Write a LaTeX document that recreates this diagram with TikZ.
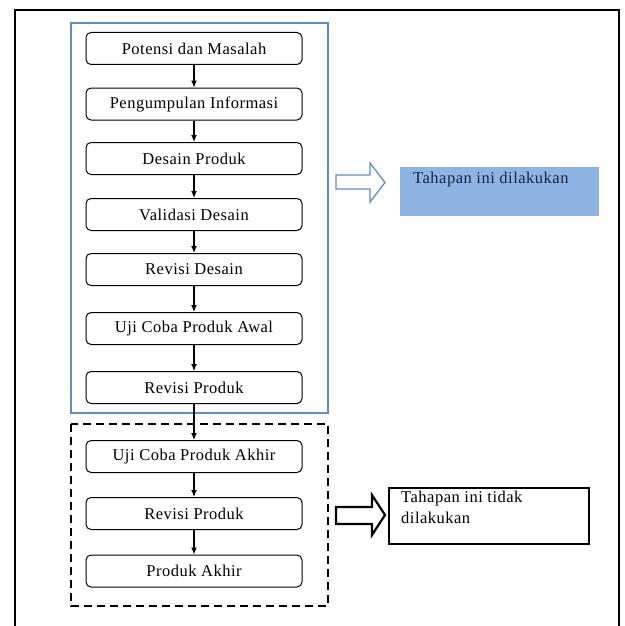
\documentclass[tikz,border=0pt]{standalone}
\usepackage{fontspec}
\setmainfont{Liberation Serif}[LetterSpace=3]
\usepackage{tikz}
\usetikzlibrary{arrows.meta,positioning}
\definecolor{tahapBlue}{RGB}{96,140,200}
\definecolor{tahapFill}{RGB}{141,180,226}
\definecolor{tahapText}{RGB}{28,36,66}

\begin{document}
\begin{tikzpicture}[x=1pt, y=-1pt, >={Latex[length=7pt,width=6pt]},
  every node/.style={font=\fontsize{16.5}{21}\selectfont},
  tahap/.style={draw, rounded corners=5pt, line width=1pt, minimum width=216pt, minimum height=32pt, inner sep=0pt}]
  \useasboundingbox (0,0) rectangle (624,626);
  % Frame
  \draw[line width=2pt] (15,630) -- (15,10) -- (619,10) -- (619,630);
  % Groups
  \draw[tahapBlue, line width=2pt] (71,23) rectangle (328,413);
  \draw[line width=2pt, dash pattern=on 8pt off 5pt] (71,424) rectangle (328,606);
  % Steps
  \node[tahap] (potensi) at (194,48.5) {Potensi dan Masalah};
  \node[tahap] (info) at (194,104) {Pengumpulan Informasi};
  \node[tahap] (desain) at (194,158.5) {Desain Produk};
  \node[tahap] (validasi) at (194,214.5) {Validasi Desain};
  \node[tahap] (revdesain) at (194,269.5) {Revisi Desain};
  \node[tahap] (ujiawal) at (194,328.5) {Uji Coba Produk Awal};
  \node[tahap] (revproduk) at (194,387.5) {Revisi Produk};
  \node[tahap] (ujiakhir) at (194,456.5) {Uji Coba Produk Akhir};
  \node[tahap] (revakhir) at (194,513.5) {Revisi Produk};
  \node[tahap] (akhir) at (194,571) {Produk Akhir};
  \draw[->, line width=1.2pt] (potensi) -- (info);
  \draw[->, line width=1.2pt] (info) -- (desain);
  \draw[->, line width=1.2pt] (desain) -- (validasi);
  \draw[->, line width=1.2pt] (validasi) -- (revdesain);
  \draw[->, line width=1.2pt] (revdesain) -- (ujiawal);
  \draw[->, line width=1.2pt] (ujiawal) -- (revproduk);
  \draw[->, line width=1.2pt] (revproduk) -- (ujiakhir);
  \draw[->, line width=1.2pt] (ujiakhir) -- (revakhir);
  \draw[->, line width=1.2pt] (revakhir) -- (akhir);
  % Notes
  \draw[tahapBlue, line width=1.3pt, fill=white] (336,175) -- (370,175) -- (370,163) -- (385,182.5) -- (370,202) -- (370,189) -- (336,189) -- cycle;
  \node[fill=tahapFill, minimum width=199pt, minimum height=49pt, anchor=north west, inner sep=0pt] (ya) at (400,167) {};
  \node[tahapText, anchor=west, inner sep=0pt] (yatxt) at (413,180) {Tahapan ini dilakukan};
  \draw[line width=2.2pt, fill=white] (336,507) -- (372,507) -- (372,495) -- (385,515) -- (372,535) -- (372,524) -- (336,524) -- cycle;
  \node[draw, line width=2pt, minimum width=200pt, minimum height=56pt, anchor=north west, inner sep=0pt] (tidak) at (388,487) {};
  \node[anchor=north west, align=left, inner sep=0pt] (tidaktxt) at (401,491) {Tahapan ini tidak\\dilakukan};
\end{tikzpicture}
\end{document}
